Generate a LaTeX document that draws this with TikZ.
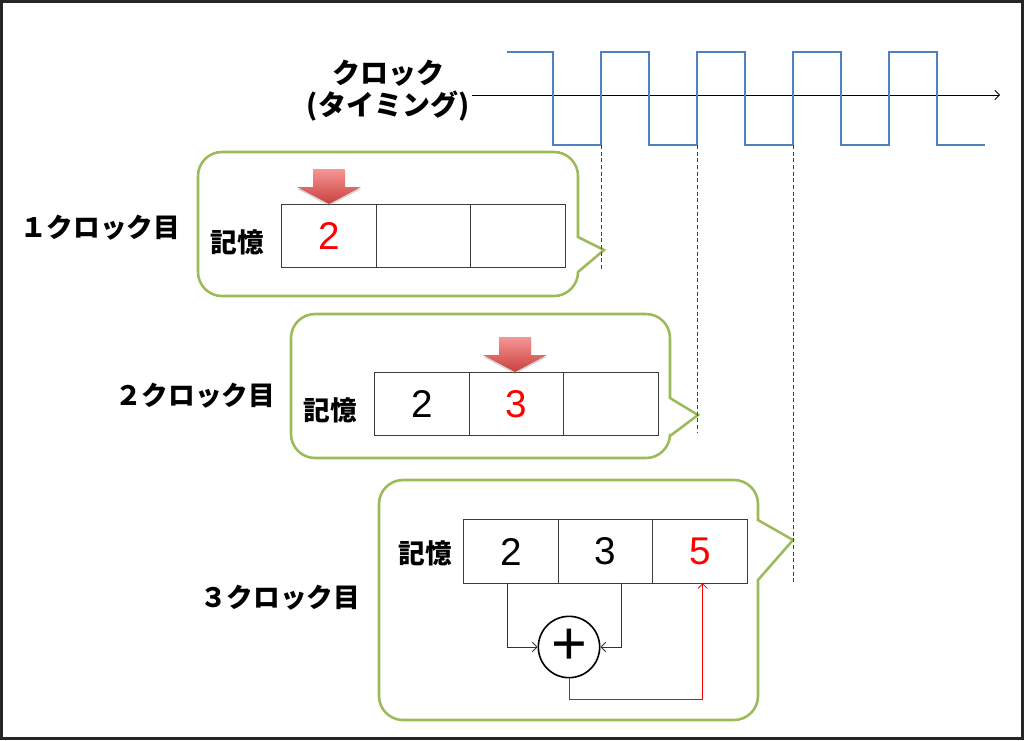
\documentclass[tikz,border=0pt]{standalone}
\usepackage{fontspec}
\newfontfamily\jpfont{Noto Sans CJK JP}
\newfontfamily\numfont{Liberation Sans}
\usetikzlibrary{positioning,shadows,arrows.meta}
\definecolor{wavebl}{RGB}{79,129,189}
\definecolor{callgreen}{RGB}{155,187,89}
\definecolor{cellln}{RGB}{60,60,60}
\definecolor{arrtop}{RGB}{245,150,150}
\definecolor{arrbot}{RGB}{200,65,60}

\begin{document}
\begin{tikzpicture}[x=0.75pt,y=-0.75pt,
  >={Straight Barb[length=3.5pt,width=7pt]},
  cell/.style={draw=cellln,line width=0.9pt,minimum width=70.9pt,minimum height=47.6pt,
    inner sep=0pt,outer sep=0pt,font=\numfont\fontsize{29}{30}\selectfont},
  jplabel/.style={font=\jpfont\bfseries\fontsize{20}{24}\selectfont,inner sep=0pt},
  callout/.style={draw=callgreen,line width=1.9pt,fill=white},
  sumnode/.style={circle,draw=black,line width=1.2pt,minimum size=46pt,inner sep=0pt,
    font=\numfont\fontsize{46}{46}\selectfont},
  sumln/.style={draw=black!80,line width=0.6pt}]
  \useasboundingbox (0,0) rectangle (1024,740);
  % 外框
  \draw[line width=2.3pt,black!85] (1.5,1.5) rectangle (1022.5,738.5);
  % 吹き出し
  \foreach \l/\t/\r/\b/\pt/\pb/\tx/\ty in {198/152/578/296/237/272/604/250,
      291/314/670/458/398/436/698/415, 379/480/758/720/520/580/793/540}
    \draw[callout] (\l,{(\t+\b)/2}) [rounded corners=18pt] -- (\l,\t) -- (\r,\t)
      [sharp corners] -- (\r,\pt) -- (\tx,\ty) -- (\r,\pb)
      [rounded corners=18pt] -- (\r,\b) -- (\l,\b) -- cycle;
  % クロック波形
  \coordinate (t0) at (472,95);
  \coordinate (t1) at (1000,95);
  \draw[->,line width=0.6pt] (t0) -- (t1);
  \draw[wavebl,line width=2.2pt] (507,52) -- (553,52)
    \foreach \i in {0,...,3} {-- (553+96*\i,145) -- (601+96*\i,145) -- (601+96*\i,52) -- (649+96*\i,52)}
    -- (937,145) -- (985,145);
  \node[jplabel,align=center,font=\jpfont\bfseries\fontsize{21}{24}\selectfont] (clk) at (388,91) {クロック\\(タイミング)};
  % 立ち上がり
  \foreach \x/\y in {601/270,697/432,793/582}
    \draw[densely dashed,black!75,line width=0.6pt] (\x,145) -- (\x,\y);
  % ラベル
  \node[jplabel] (n1) at (100,228) {１クロック目};
  \node[jplabel] (n2) at (195,396) {２クロック目};
  \node[jplabel] (n3) at (280,598) {３クロック目};
  \node[jplabel] (m1) at (237,242) {記憶};
  \node[jplabel] (m2) at (330,410) {記憶};
  \node[jplabel] (m3) at (425,553) {記憶};
  % 記憶セル
  \node[cell] (a1) at (329,236) {\textcolor{red}{2}};
  \node[cell,right=0pt of a1] (a2) {};
  \node[cell,right=0pt of a2] (a3) {};
  \node[cell] (b1) at (422,404) {2};
  \node[cell,right=0pt of b1] (b2) {\textcolor{red}{3}};
  \node[cell,right=0pt of b2] (b3) {};
  \node[cell] (c1) at (511,551.5) {2};
  \node[cell,right=0pt of c1] (c2) {3};
  \node[cell,right=0pt of c2] (c3) {\textcolor{red}{5}};
  % 書き込み位置
  \foreach \x/\y in {329/204,515/372}
    \shade[top color=arrtop,bottom color=arrbot,
      drop shadow={opacity=0.3,shadow xshift=0pt,shadow yshift=-1.5pt}]
      (\x,\y) -- (\x-32,\y-17) -- (\x-16,\y-17) -- (\x-16,\y-35)
      -- (\x+16,\y-35) -- (\x+16,\y-17) -- (\x+32,\y-17) -- cycle;
  % 足し算
  \node[sumnode] (s) at (569,647) {+};
  \draw[sumln,->] ([xshift=-3pt]c1.south) |- (s.west);
  \draw[sumln,->] ([xshift=12pt]c2.south) |- (s.east);
  \draw[red,line width=0.6pt,->] (s.south) -- ++(0,21) -| ([xshift=2pt]c3.south);
\end{tikzpicture}
\end{document}
